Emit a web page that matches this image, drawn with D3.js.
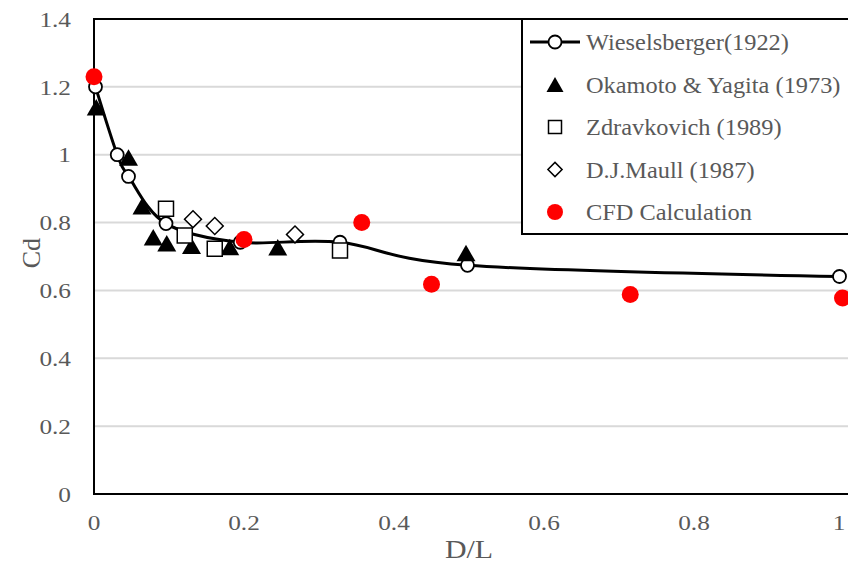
<!DOCTYPE html>
<html>
<head>
<meta charset="utf-8">
<script src="https://cdn.jsdelivr.net/npm/d3@7"></script>
<style>
  body { margin: 0; background: #fff; }
  svg text { font-family: "Liberation Serif", "DejaVu Serif", serif; fill: #595959; }
</style>
</head>
<body>
<div id="chart"></div>
<script>
// data
const wieselX = [0.002, 0.031, 0.046, 0.096, 0.195, 0.328, 0.498, 0.994];
const wieselY = [1.20, 1.00, 0.936, 0.797, 0.742, 0.742, 0.674, 0.641];

const okamotoX = [0.003, 0.046, 0.064, 0.079, 0.097, 0.130, 0.181, 0.245, 0.496];
const okamotoY = [1.14, 0.992, 0.848, 0.757, 0.739, 0.732, 0.728, 0.727, 0.71];

const zdravX = [0.096, 0.121, 0.161, 0.328];
const zdravY = [0.841, 0.762, 0.723, 0.718];

const maullX = [0.132, 0.161, 0.268];
const maullY = [0.81, 0.79, 0.765];

const cfdX = [0, 0.2, 0.357, 0.45, 0.715, 0.998];
const cfdY = [1.23, 0.75, 0.80, 0.618, 0.588, 0.578];

const xTicks = [0, 0.2, 0.4, 0.6, 0.8, 1];
const yTicks = [0, 0.2, 0.4, 0.6, 0.8, 1, 1.2, 1.4];
const legendNames = ["Wieselsberger(1922)", "Okamoto & Yagita (1973)", "Zdravkovich (1989)", "D.J.Maull (1987)", "CFD Calculation"];

const width = 848, height = 567;
const x = d3.scaleLinear().domain([0, 1]).range([94, 844]);
const y = d3.scaleLinear().domain([0, 1.4]).range([494, 19]);

const svg = d3.select("#chart").append("svg")
    .attr("width", width)
    .attr("height", height);

// triangle centred on its bounding box, like Excel's marker
const triangle = {
    draw(ctx, size) {
        const s = Math.sqrt(size);
        const h = s * 0.87;
        ctx.moveTo(0, -h / 2);
        ctx.lineTo(s / 2, h / 2);
        ctx.lineTo(-s / 2, h / 2);
        ctx.closePath();
    }
};
const triPath = d3.symbol().type(triangle).size(19 * 19)();
const sqPath = d3.symbol().type(d3.symbolSquare).size(15 * 15)();
const diaPath = d3.symbol().type(d3.symbolSquare).size(12 * 12)();

// gridlines
svg.append("g").selectAll("line")
    .data(yTicks.filter(d => d > 0 && d < 1.4))
    .enter().append("line")
    .attr("x1", x(0)).attr("x2", width)
    .attr("y1", d => y(d)).attr("y2", d => y(d))
    .attr("stroke", "#d9d9d9").attr("stroke-width", 2);

// plot border
svg.append("rect")
    .attr("x", x(0)).attr("y", y(1.4))
    .attr("width", width + 10 - x(0)).attr("height", y(0) - y(1.4))
    .attr("fill", "none").attr("stroke", "#000").attr("stroke-width", 2);

// tick labels (the reference text is a little stretched sideways)
svg.append("g").selectAll("text")
    .data(yTicks).enter().append("text")
    .attr("transform", d => "translate(71," + y(d) + ") scale(1.15,1)")
    .attr("dy", "0.35em")
    .attr("text-anchor", "end").attr("font-size", 22)
    .text(d => d);

svg.append("g").selectAll("text")
    .data(xTicks).enter().append("text")
    .attr("transform", d => "translate(" + Math.min(x(d), 839) + ",530) scale(1.15,1)")
    .attr("text-anchor", "middle").attr("font-size", 22)
    .text(d => d);

svg.append("text")
    .attr("transform", "translate(40," + y(0.71) + ") rotate(-90)")
    .attr("text-anchor", "middle").attr("font-size", 26)
    .text("Cd");

svg.append("text")
    .attr("transform", "translate(" + x(0.5) + ",558) scale(1.15,1)")
    .attr("text-anchor", "middle").attr("font-size", 26)
    .text("D/L");

// Wieselsberger smoothed line (Excel style smoothing)
const wiesel = wieselX.map((d, i) => [d, wieselY[i]]);
svg.append("path")
    .datum(wiesel)
    .attr("d", d3.line().x(d => x(d[0])).y(d => y(d[1])).curve(d3.curveCardinal.tension(0)))
    .attr("fill", "none").attr("stroke", "#000").attr("stroke-width", 3);

svg.append("g").selectAll("circle")
    .data(wiesel).enter().append("circle")
    .attr("cx", d => x(d[0])).attr("cy", d => y(d[1])).attr("r", 6.5)
    .attr("fill", "#fff").attr("stroke", "#000").attr("stroke-width", 1.8);

svg.append("g").selectAll("path")
    .data(okamotoX.map((d, i) => [d, okamotoY[i]])).enter().append("path")
    .attr("d", triPath)
    .attr("transform", d => "translate(" + x(d[0]) + "," + y(d[1]) + ")")
    .attr("fill", "#000");

svg.append("g").selectAll("path")
    .data(zdravX.map((d, i) => [d, zdravY[i]])).enter().append("path")
    .attr("d", sqPath)
    .attr("transform", d => "translate(" + x(d[0]) + "," + y(d[1]) + ")")
    .attr("fill", "#fff").attr("stroke", "#000").attr("stroke-width", 1.5);

svg.append("g").selectAll("path")
    .data(maullX.map((d, i) => [d, maullY[i]])).enter().append("path")
    .attr("d", diaPath)
    .attr("transform", d => "translate(" + x(d[0]) + "," + y(d[1]) + ") rotate(45)")
    .attr("fill", "#fff").attr("stroke", "#000").attr("stroke-width", 1.5);

svg.append("g").selectAll("circle")
    .data(cfdX.map((d, i) => [d, cfdY[i]])).enter().append("circle")
    .attr("cx", d => x(d[0])).attr("cy", d => y(d[1])).attr("r", 8.5)
    .attr("fill", "#ff0000");

// legend
const lg = svg.append("g");
lg.append("rect")
    .attr("x", 522).attr("y", 19).attr("width", 340).attr("height", 215)
    .attr("fill", "#fff").attr("stroke", "#000").attr("stroke-width", 2);

const rowY = i => 42 + i * 42.5;
lg.append("line").attr("x1", 530).attr("x2", 580).attr("y1", rowY(0)).attr("y2", rowY(0))
    .attr("stroke", "#000").attr("stroke-width", 3);
lg.append("circle").attr("cx", 555).attr("cy", rowY(0)).attr("r", 6.5)
    .attr("fill", "#fff").attr("stroke", "#000").attr("stroke-width", 1.8);
lg.append("path").attr("d", d3.symbol().type(triangle).size(17 * 17)())
    .attr("transform", "translate(555," + rowY(1) + ")").attr("fill", "#000");
lg.append("path").attr("d", d3.symbol().type(d3.symbolSquare).size(13 * 13)())
    .attr("transform", "translate(555," + rowY(2) + ")")
    .attr("fill", "#fff").attr("stroke", "#000").attr("stroke-width", 1.5);
lg.append("path").attr("d", d3.symbol().type(d3.symbolSquare).size(10 * 10)())
    .attr("transform", "translate(555," + rowY(3) + ") rotate(45)")
    .attr("fill", "#fff").attr("stroke", "#000").attr("stroke-width", 1.5);
lg.append("circle").attr("cx", 555).attr("cy", rowY(4)).attr("r", 8)
    .attr("fill", "#ff0000");

lg.selectAll("text.lbl")
    .data(legendNames).enter().append("text")
    .attr("class", "lbl")
    .attr("transform", (d, i) => "translate(586," + rowY(i) + ") scale(1.06,1)")
    .attr("dy", "0.35em")
    .attr("font-size", 23)
    .text(d => d);
</script>
</body>
</html>
